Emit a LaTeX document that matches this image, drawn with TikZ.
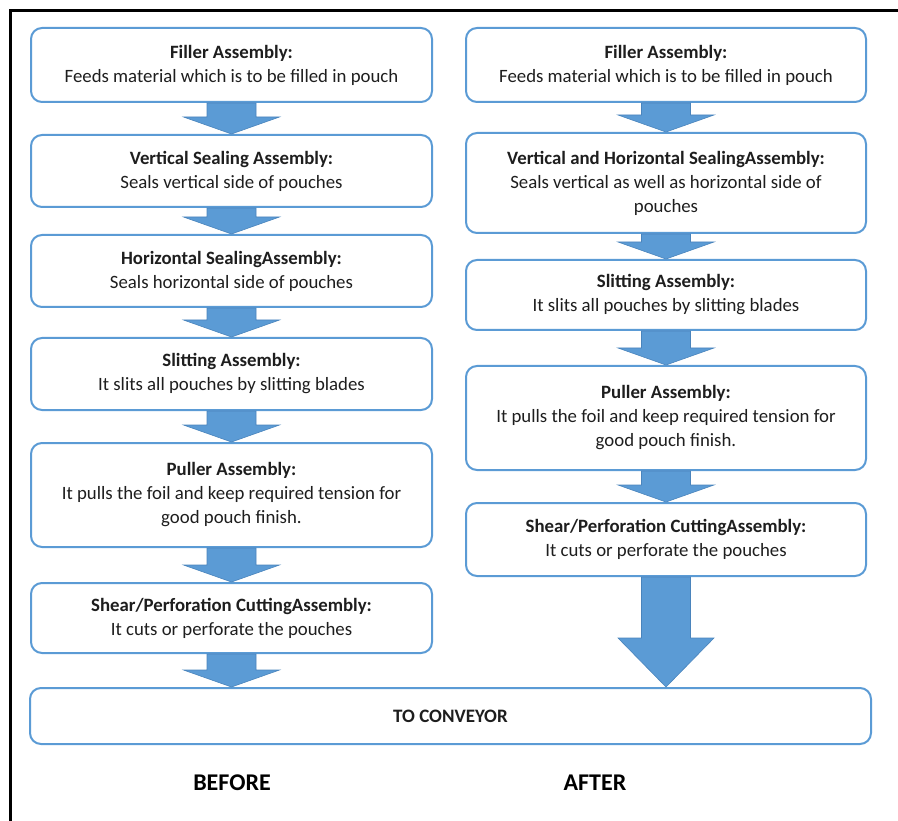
\documentclass[tikz,border=0pt]{standalone}
\usepackage{fontspec}
\setmainfont{Carlito}
\usepackage{tikz}
\usepackage{xcolor}
\usetikzlibrary{calc}
\definecolor{boxblue}{HTML}{5B9BD5}
\definecolor{arrowline}{HTML}{4A84BC}
\definecolor{textdark}{HTML}{1E1E1E}
\tikzset{
    stage-box/.style = {draw=boxblue, fill=white, line width=2pt, rectangle, rounded corners=11pt, align=center, text=textdark, font=\fontsize{18.8}{24}\selectfont, inner sep=0pt},
    flow-arrow/.style = {fill=boxblue, draw=arrowline, line width=0.6pt, line join=miter},
    side-title/.style = {font=\fontsize{24}{28}\selectfont\bfseries, text=black},
}
\newcommand{\blockarrow}[5]{%
  \filldraw[flow-arrow] let \p1=(#1.south), \p2=(#2.north) in
    (\x1-#3,\y1) -- (\x1+#3,\y1) -- (\x1+#3,\y2+#5) -- (\x1+#4,\y2+#5) -- (\x1,\y2) -- (\x1-#4,\y2+#5) -- (\x1-#3,\y2+#5) -- cycle;
}

\begin{document}
\begin{tikzpicture}[x=1pt, y=-1pt]
\useasboundingbox (0,0) rectangle (898,821);
\draw[line width=3pt] (10,821) -- (10,10.5) -- (898,10.5);

% before
\node [stage-box, minimum width=401, minimum height=74] (b1) at (231.5,65) {\textbf{Filler Assembly:}\\Feeds material which is to be filled in pouch};
\node [stage-box, minimum width=401, minimum height=72] (b2) at (231.5,171) {\textbf{Vertical Sealing Assembly:}\\Seals vertical side of pouches};
\node [stage-box, minimum width=401, minimum height=72] (b3) at (231.5,271) {\textbf{Horizontal SealingAssembly:}\\Seals horizontal side of pouches};
\node [stage-box, minimum width=401, minimum height=72] (b4) at (231.5,374) {\textbf{Slitting Assembly:}\\It slits all pouches by slitting blades};
\node [stage-box, minimum width=401, minimum height=104] (b5) at (231.5,495) {\textbf{Puller Assembly:}\\It pulls the foil and keep required tension for\\good pouch finish.};
\node [stage-box, minimum width=401, minimum height=70] (b6) at (231.5,618) {\textbf{Shear/Perforation CuttingAssembly:}\\It cuts or perforate the pouches};

% after
\node [stage-box, minimum width=400, minimum height=74] (a1) at (666,65) {\textbf{Filler Assembly:}\\Feeds material which is to be filled in pouch};
\node [stage-box, minimum width=400, minimum height=100] (a2) at (666,183) {\textbf{Vertical and Horizontal SealingAssembly:}\\Seals vertical as well as horizontal side of\\pouches};
\node [stage-box, minimum width=400, minimum height=70] (a3) at (666,295) {\textbf{Slitting Assembly:}\\It slits all pouches by slitting blades};
\node [stage-box, minimum width=400, minimum height=104] (a4) at (666,418) {\textbf{Puller Assembly:}\\It pulls the foil and keep required tension for\\good pouch finish.};
\node [stage-box, minimum width=400, minimum height=73] (a5) at (666,539.5) {\textbf{Shear/Perforation CuttingAssembly:}\\It cuts or perforate the pouches};

\node [stage-box, minimum width=841, minimum height=56, font=\fontsize{19}{22}\selectfont\bfseries] (conv) at (450.5,716) {TO CONVEYOR};

\foreach \from/\to in {b1/b2, b2/b3, b3/b4, b4/b5, b5/b6, b6/conv, a1/a2, a2/a3, a3/a4, a4/a5}{
  \blockarrow{\from}{\to}{24.5pt}{48pt}{17pt}
}
\blockarrow{a5}{conv}{24.5pt}{48pt}{49pt}

\node [side-title] (before) at (232,783) {BEFORE};
\node [side-title] (after) at (595,783) {AFTER};
\end{tikzpicture}
\end{document}
